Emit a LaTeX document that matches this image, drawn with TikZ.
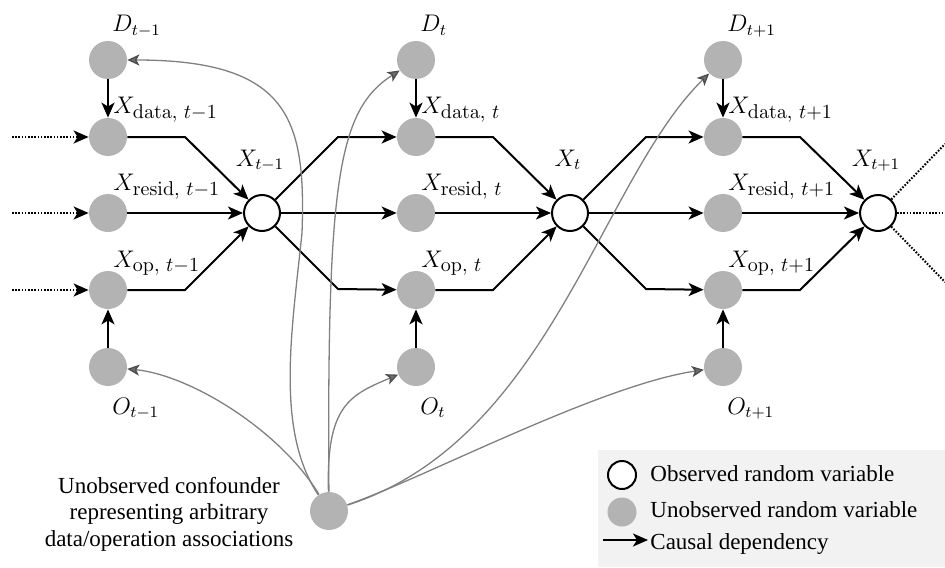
\documentclass[tikz,border=0pt]{standalone}
\usepackage[no-math]{fontspec}
\setmainfont{Liberation Serif}
\newfontfamily\notefont{Liberation Serif}
\usetikzlibrary{arrows.meta}

\DeclareMathSizes{12.5}{12.5}{7.8}{6}
% larger subscript used in the X_{data/resid/op} labels
\newcommand{\bigsub}[1]{\hbox{\fontsize{10}{11}\selectfont$#1$}}

\definecolor{hiddenfill}{HTML}{B3B3B3}
\definecolor{confline}{HTML}{808080}
\definecolor{conftip}{HTML}{6E6E6E}
\definecolor{confedge}{HTML}{4D4D4D}
\definecolor{legendbg}{HTML}{F2F2F2}

\begin{document}
\begin{tikzpicture}[x=0.5pt,y=-0.5pt,
  hid/.style={circle,fill=hiddenfill,minimum size=19pt,inner sep=0pt},
  obs/.style={circle,draw=black,fill=white,line width=1pt,minimum size=18pt,inner sep=0pt},
  dep/.style={line width=1pt,-{Stealth[length=7.5pt,width=6.5pt,inset=2pt]}},
  feed/.style={dep,dash pattern=on 0.8pt off 0.8pt},
  tail/.style={line width=1pt,dash pattern=on 0.8pt off 0.8pt},
  conf/.style={draw=confline,line width=0.65pt,
    -{Stealth[length=6pt,width=5.5pt,inset=1.5pt,fill=conftip,color=confedge]}},
  lab/.style={anchor=base west,inner sep=0pt,font=\fontsize{12.5}{14}\selectfont},
  clab/.style={anchor=base,inner sep=0pt,font=\fontsize{12.5}{14}\selectfont},
  txt/.style={inner sep=0pt,font=\notefont\fontsize{11.5}{13.25}\selectfont},
]
\path[use as bounding box] (0,0) rectangle (945,567);

% legend panel
\fill[legendbg] (598,450) rectangle (945,567);

% three time slices
\foreach \i/\gx/\xx/\tl/\tm in {1/108/262/{t-1}/{t{-}1},2/416/570/{t}/{t},3/723/878/{t+1}/{t{+}1}}{
  \node[hid] (D\i)  at (\gx,60)  {};
  \node[hid] (Xd\i) at (\gx,137) {};
  \node[hid] (Xr\i) at (\gx,213) {};
  \node[hid] (Xo\i) at (\gx,290) {};
  \node[hid] (O\i)  at (\gx,367) {};
  \node[obs] (X\i)  at (\xx,213) {};
  \node[lab] (lD\i)  at (\gx+4,32)  {$D_{\tl}$};
  \node[lab] (lXd\i) at (\gx+5,113) {$X_{\bigsub{\mathrm{data},\,\tm}}$};
  \node[lab] (lXr\i) at (\gx+5,190) {$X_{\bigsub{\mathrm{resid},\,\tm}}$};
  \node[lab] (lXo\i) at (\gx+5,267) {$X_{\bigsub{\mathrm{op},\,\tm}}$};
  \node[lab] (lO\i)  at (\gx+4,414) {$O_{\tl}$};
  \node[clab] (lX\i) at (\xx-2,166) {$X_{\tl}$};
  \draw[dep] (D\i) -- (Xd\i);
  \draw[dep] (O\i) -- (Xo\i);
  \draw[dep] (Xd\i) -- ++(77,0) -- (X\i);
  \draw[dep] (Xr\i) -- (X\i);
  \draw[dep] (Xo\i) -- ++(77,0) -- (X\i);
}

% links from one slice to the next
\foreach \a/\b in {1/2,2/3}{
  \draw[dep] (X\a) -- ++(76,-76) -- (Xd\b);
  \draw[dep] (X\a) -- (Xr\b);
  \draw[dep] (X\a) -- ++(76,76) -- (Xo\b);
}

% incoming history on the left
\coordinate (inD) at (12,137);
\coordinate (inR) at (12,213);
\coordinate (inO) at (12,290);
\draw[feed] (inD) -- (Xd1);
\draw[feed] (inR) -- (Xr1);
\draw[feed] (inO) -- (Xo1);

% continuation on the right
\coordinate (outU) at (945,144);
\coordinate (outM) at (945,213);
\coordinate (outL) at (945,282);
\draw[tail] (X3) -- (outU);
\draw[tail] (X3) -- (outM);
\draw[tail] (X3) -- (outL);

% unobserved confounder
\node[hid] (C) at (329,511) {};
\node[txt,align=center] (Cnote) at (169,514)
  {Unobserved confounder\\representing arbitrary\\data/operation associations};

\draw[conf] (C) .. controls (275,430) and (292,330) .. (302,233)
               .. controls (306,120) and (290,60) .. (D1);
\draw[conf] (C) .. controls (327,180) and (338,110) .. (D2);
\draw[conf] (C) .. controls (550,440) and (600,180) .. (D3);
\draw[conf] (C) .. controls (280,430) and (190,375) .. (O1);
\draw[conf] (C) .. controls (326,405) and (350,395) .. (O2);
\draw[conf] (C) .. controls (420,480) and (600,385) .. (O3);

% legend entries
\node[obs,minimum size=14pt] (legObs) at (622,475) {};
\node[hid,minimum size=14.5pt] (legHid) at (622,512) {};
\coordinate (legA) at (603,540);
\coordinate (legB) at (648,540);
\draw[dep] (legA) -- (legB);
\node[txt,anchor=base west] (legT1) at (650,481) {Observed random variable};
\node[txt,anchor=base west] (legT2) at (650,517) {Unobserved random variable};
\node[txt,anchor=base west] (legT3) at (650,549) {Causal dependency};
\end{tikzpicture}
\end{document}
